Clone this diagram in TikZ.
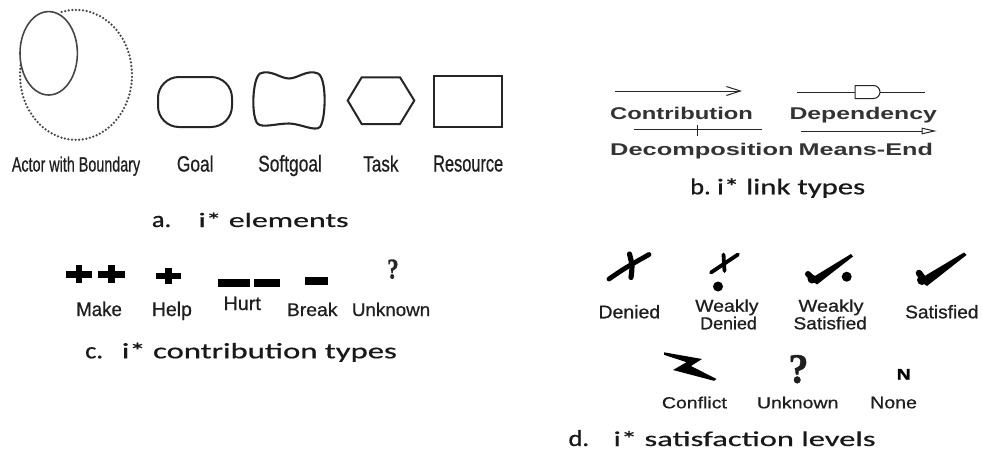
\documentclass[tikz,border=0pt]{standalone}
\usepackage{fontspec}
\setmainfont{Liberation Sans}
\newfontfamily\midfont[FakeBold=0.7]{Liberation Sans}
\newfontfamily\heavyfont[FakeBold=1.5]{Liberation Sans Bold}
\newfontfamily\capfont[FakeBold=0.5]{Carlito}
\newfontfamily\serffont[FakeBold=1]{Liberation Serif}
\usetikzlibrary{arrows.meta}
\newcommand\fitbox[3]{\resizebox{#1pt}{#2pt}{#3}}
\newcommand\capprefix[1]{\scalebox{1.15}[1]{\fontsize{23pt}{23pt}\selectfont #1}}
\begin{document}
\begin{tikzpicture}[x=1pt,y=-1pt,
  lbl/.style={inner sep=0pt, anchor=base west, text=black!88, font=\midfont},
  captxt/.style={lbl, font=\capfont, text=black!90},
  blab/.style={lbl, font=\bfseries, text=black!80},
  elem/.style={draw=black!85, line width=2pt},
  link/.style={draw=black!85, line width=1pt},
  stroke/.style={draw=black, line cap=round}]

\fill[white] (0,0) rectangle (982,450);
\useasboundingbox (0,0) rectangle (982,450);

% ---------- a. elements ----------
\draw[draw=black!72, line width=1.6pt] (48.7,53.3) ellipse [x radius=28.7, y radius=41.7];
\draw[draw=black!72, line width=2.5pt, line cap=round, dash pattern=on 0pt off 3.6pt]
  (61.7,12) arc[start angle=-104.8, end angle=188.9, x radius=56, y radius=65];
\draw[elem, rounded corners=21pt] (158,77) rectangle (232,127);
\draw[elem, line width=2.1pt] (260,73.5) .. controls (271,69) and (280,78.5) .. (289,78.5)
  .. controls (298,78.5) and (307,69) .. (318,73.5)
  .. controls (327,78) and (326,119) .. (320,127)
  .. controls (315,132) and (300,123.5) .. (289,123.5)
  .. controls (277,123.5) and (263,128) .. (258,124)
  .. controls (251,118) and (252,79) .. (260,73.5) -- cycle;
\draw[elem] (361.7,77.3) -- (400,77.3) -- (414.3,100.5) -- (400,124) -- (361.7,124) -- (347.7,100.5) -- cycle;
\draw[elem, line width=2.2pt] (434.3,76) rectangle (502.3,126.7);

\node[lbl] (lactor) at (11.7,171.5) {\fitbox{128.3}{15}{Actor with Boundary}};
\node[lbl] (lgoal) at (176.7,171.5) {\fitbox{36.6}{16}{Goal}};
\node[lbl] (lsoft) at (258,171.5) {\fitbox{63.7}{16.5}{Softgoal}};
\node[lbl] (ltask) at (363,171.5) {\fitbox{35.3}{16}{Task}};
\node[lbl] (lres) at (433,171.5) {\fitbox{70}{16}{Resource}};

\node[captxt] (capa1) at (151.7,227) {\capprefix{a.}};
\node[captxt] (capa2) at (198.3,227) {\fitbox{150}{14.5}{i* elements}};

% ---------- b. link types ----------
\coordinate (ca) at (615,91);
\coordinate (cb) at (742,91);
\draw[link, -{Straight Barb[length=14pt, width=9pt, line width=1pt]}] (ca) -- (cb);
\coordinate (da) at (797,92);
\coordinate (db) at (855,92);
\coordinate (dc) at (880,92);
\coordinate (dd) at (925,92);
\draw[link] (da) -- (db);
\draw[link] (dc) -- (dd);
\draw[link] (855,85.5) -- (873.5,85.5) arc[start angle=-90, end angle=90, radius=6.5] -- (855,98.5) -- cycle;
\coordinate (ea) at (634,129);
\coordinate (eb) at (762,129);
\draw[link] (ea) -- (eb);
\draw[link] (697,124.5) -- (697,135.5);
\coordinate (ma) at (801,131);
\coordinate (mb) at (936.7,131);
\draw[link, -{Triangle[open, length=15pt, width=6.5pt, line width=1pt]}] (ma) -- (mb);

\node[blab] (lcontr) at (610,119) {\fitbox{142.7}{12.3}{Contribution}};
\node[blab] (ldep) at (789.3,119) {\fitbox{147.4}{12.3}{Dependency}};
\node[blab] (ldec) at (610,155.7) {\fitbox{183.3}{12.3}{Decomposition}};
\node[blab] (lme) at (798.3,155.7) {\fitbox{134.4}{12.3}{Means-End}};

\node[captxt] (capb1) at (690,194.3) {\capprefix{b.}};
\node[captxt] (capb2) at (716.7,194.3) {\fitbox{148.3}{16}{i* link types}};

% ---------- c. contribution types ----------
\fill (66,270.9) rectangle (91.7,277.7);
\fill (75.6,265) rectangle (82.4,283.3);
\fill (98.3,270.9) rectangle (125,277.7);
\fill (108.3,265) rectangle (115.1,283.3);
\fill (156,272.6) rectangle (180.7,279.4);
\fill (164.9,268.3) rectangle (171.7,284);
\fill (218.3,279.3) rectangle (250,287.3);
\fill (254,279.3) rectangle (280,287.3);
\fill (305,277.3) rectangle (328.3,284.7);
\node[lbl, font=\serffont\bfseries, text=black!85] (qc) at (387,278.5) {\fitbox{11.5}{19}{?}};

\node[lbl] (lmake) at (76,316) {\fitbox{45.7}{14.3}{Make}};
\node[lbl] (lhelp) at (151.7,316) {\fitbox{40}{14.3}{Help}};
\node[lbl] (lhurt) at (223.3,310) {\fitbox{37.4}{13.3}{Hurt}};
\node[lbl] (lbreak) at (286.7,316) {\fitbox{50.6}{13.3}{Break}};
\node[lbl] (lunk) at (351.7,316) {\fitbox{78.3}{13.3}{Unknown}};

\node[captxt] (capc1) at (85,358.3) {\capprefix{c.}};
\node[captxt] (capc2) at (121.7,358.3) {\fitbox{275}{15.6}{i* contribution types}};

% ---------- d. satisfaction levels ----------
% Denied
\draw[stroke, line width=4.8pt] (609,279) .. controls (625,268) .. (649,254.5);
\draw[stroke, line width=5.2pt] (629.5,254) .. controls (632.5,266) .. (631,277.5);
% Weakly denied
\draw[stroke, line width=3.8pt] (711,272.5) -- (738,254.5);
\draw[stroke, line width=3.8pt] (723.5,254.5) -- (724.5,271);
\fill (718,286.5) circle [radius=5];
% Weakly satisfied
\draw[stroke, line width=6pt] (808,274) -- (814,280);
\fill (812,279) circle [radius=4.5];
\fill (810,279) -- (851,254) -- (853,256.5) -- (817,284.5) -- cycle;
\fill (846.7,276.7) circle [radius=5];
% Satisfied
\draw[stroke, line width=6.5pt] (919,273) -- (924,280);
\fill (922,280) circle [radius=5];
\fill (918,280) -- (964,252.5) -- (966.5,255) -- (927,286) -- cycle;
% Conflict
\fill (664,352.3) -- (702,359) -- (691,366) -- (716.5,379) -- (714,380.8) -- (673,370) -- (686.5,362.2) -- (664,354.8) -- cycle;
\node[lbl, font=\serffont\bfseries] (qd) at (788.3,382.7) {\fitbox{20}{27.7}{?}};
\node[lbl, font=\heavyfont, text=black] (nn) at (896.5,379.5) {\fitbox{14}{10.5}{N}};

\node[lbl] (ldenied) at (598.3,318.3) {\fitbox{61.7}{13.3}{Denied}};
\node[lbl] (lwk1) at (695,311.7) {\fitbox{63.3}{12.4}{Weakly}};
\node[lbl] (lden2) at (700,329.3) {\fitbox{56.7}{12.6}{Denied}};
\node[lbl] (lwk2) at (798.3,311.7) {\fitbox{65}{12.4}{Weakly}};
\node[lbl] (lsat2) at (793.3,329.3) {\fitbox{73.4}{12.6}{Satisfied}};
\node[lbl] (lsat) at (905,318.3) {\fitbox{73.3}{13.3}{Satisfied}};
\node[lbl] (lconf) at (661.7,408.3) {\fitbox{65}{11.6}{Conflict}};
\node[lbl] (lunk2) at (756.7,408.3) {\fitbox{81.6}{11.6}{Unknown}};
\node[lbl] (lnone) at (870,408.3) {\fitbox{46.7}{11.6}{None}};

\node[captxt] (capd1) at (568.3,446) {\capprefix{d.}};
\node[captxt] (capd2) at (613.3,446) {\fitbox{262}{15}{i* satisfaction levels}};
\end{tikzpicture}
\end{document}
